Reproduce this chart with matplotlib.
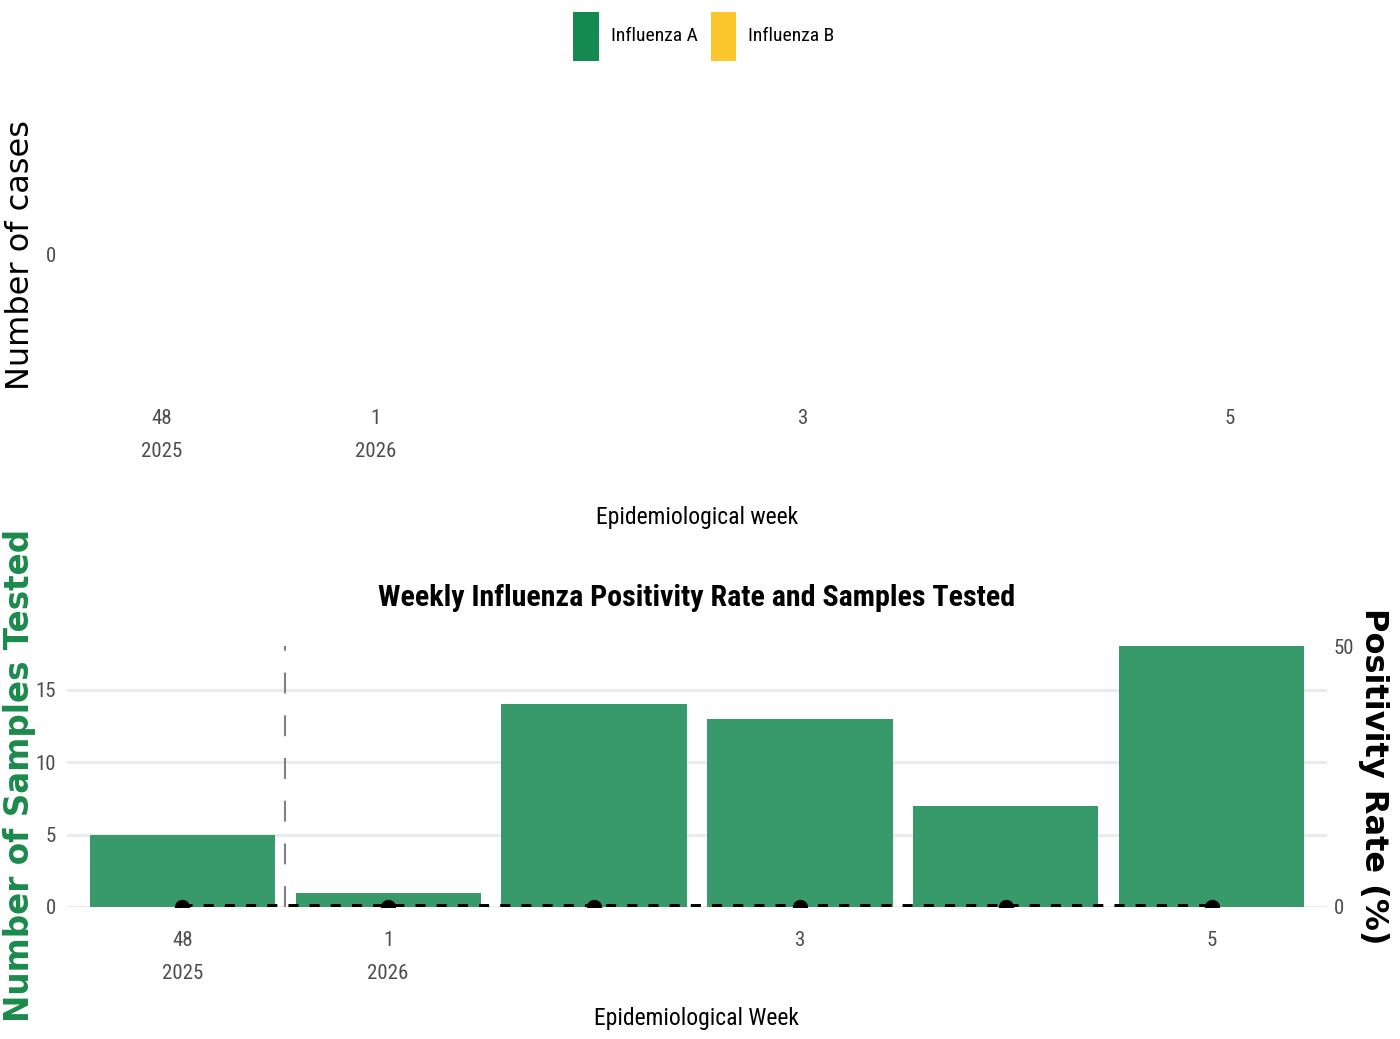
import matplotlib
matplotlib.use("Agg")
import matplotlib.pyplot as plt
from matplotlib.patches import Patch
import numpy as np

# ---- data ----
weeks = ["48", "1", "2", "3", "4", "5"]
years = ["2025", "2026", "2026", "2026", "2026", "2026"]
samples_tested = [5, 1, 14, 13, 7, 18]
positivity_rate = [0, 0, 0, 0, 0, 0]
label_weeks = ["48", "1", "3", "5"]
legend_labels = ["Influenza A", "Influenza B"]
legend_colors = ["#148A50", "#FCC72C"]
left_ticks = [0, 5, 10, 15]
right_ticks = [0, 50]
top_ticks = [0]

NARROW = ["Liberation Sans Narrow", "Arial Narrow", "Roboto Condensed",
          "DejaVu Sans Condensed", "Noto Sans Condensed", "Liberation Sans", "DejaVu Sans"]
WIDE = ["DejaVu Sans"]
BAR_COLOR = "#38996A"
GREEN_LABEL = "#1B8A4C"
TICK_GRAY = "#4D4D4D"
TICK_FS = 15

W, H = 1400, 1039
fig = plt.figure(figsize=(W / 100, H / 100), dpi=100)

def frac_rect(x0, y0, x1, y1):
    return [x0 / W, 1 - y1 / H, (x1 - x0) / W, (y1 - y0) / H]

x = np.arange(len(weeks))
tick_pos = [weeks.index(w) for w in label_weeks]
tick_text = []
for w in label_weeks:
    i = weeks.index(w)
    if i == 0 or years[i] != years[i - 1]:
        tick_text.append(f"{w}\n{years[i]}")
    else:
        tick_text.append(w)

# ---- top panel (empty case counts) ----
ax1 = fig.add_axes(frac_rect(67, 125, 1327, 385))
ax1.set_xlim(-0.445, 5.454)
ax1.set_ylim(-1, 1)
for s in ax1.spines.values():
    s.set_visible(False)
ax1.set_yticks(top_ticks)
ax1.set_xticks(tick_pos)
ax1.set_xticklabels(tick_text, family=NARROW, fontsize=TICK_FS, color=TICK_GRAY, linespacing=1.95)
ax1.set_yticklabels([str(t) for t in top_ticks], family=NARROW, fontsize=TICK_FS, color=TICK_GRAY)
ax1.tick_params(length=0, axis="x", pad=17)
ax1.tick_params(length=0, axis="y", pad=8)
fig.text(21 / W, 1 - 255 / H, "Number of cases", rotation=90, family=WIDE, fontsize=23,
         ha="center", va="center", color="black")
fig.text(697 / W, 1 - 517 / H, "Epidemiological week", family=NARROW, fontsize=17,
         ha="center", va="center", color="black")

handles = [Patch(facecolor=c, edgecolor="none") for c in legend_colors]
fig.legend(handles, legend_labels, loc="center", bbox_to_anchor=(704 / W, 1 - 36 / H),
           ncol=2, frameon=False, prop={"family": NARROW, "size": 14},
           handlelength=1.3, handleheight=3.5, handletextpad=0.62, columnspacing=0.68)

# ---- bottom panel ----
ax2 = fig.add_axes(frac_rect(67, 646, 1327, 907))
ax2.set_xlim(-0.56, 5.56)
ax2.set_ylim(0, 18)
for s in ax2.spines.values():
    s.set_visible(False)
ax2.set_axisbelow(True)
ax2.yaxis.grid(True, color="#EBEBEB", linewidth=2.2)
ax2.xaxis.grid(False)
ax2.bar(x, samples_tested, width=0.9, color=BAR_COLOR, zorder=2)
ax2.axvline(0.5, color="#808080", linewidth=1.5, linestyle=(0, (10, 10.5)), zorder=3)

scale = 18 / 50
pos_scaled = [p * scale for p in positivity_rate]
ax2.plot(x, pos_scaled, color="black", linewidth=5, linestyle=(0, (1.45, 1.6)), zorder=4)
ax2.plot(x, pos_scaled, "o", color="black", markersize=10, zorder=5, clip_on=True)

ax2.set_yticks(left_ticks)
ax2.set_yticklabels([str(t) for t in left_ticks], family=NARROW, fontsize=TICK_FS, color=TICK_GRAY)
ax2.set_xticks(tick_pos)
ax2.set_xticklabels(tick_text, family=NARROW, fontsize=TICK_FS, color=TICK_GRAY, linespacing=1.95)
ax2.tick_params(length=0, axis="x", pad=17)
ax2.tick_params(length=0, axis="y", pad=8)

ax3 = ax2.twinx()
ax3.set_ylim(0, 50)
for s in ax3.spines.values():
    s.set_visible(False)
ax3.set_yticks(right_ticks)
ax3.set_yticklabels([str(t) for t in right_ticks], family=NARROW, fontsize=TICK_FS, color=TICK_GRAY)
ax3.tick_params(length=0, pad=5)

fig.text(697 / W, 1 - 598 / H, "Weekly Influenza Positivity Rate and Samples Tested",
         family=NARROW, fontsize=21.6, fontweight="bold", ha="center", va="center", color="black")
fig.text(20 / W, 1 - 775 / H, "Number of Samples Tested", rotation=90, family=WIDE,
         fontsize=23.5, fontweight="bold", ha="center", va="center", color=GREEN_LABEL)
fig.text(1374 / W, 1 - 776 / H, "Positivity Rate (%)", rotation=-90, family=WIDE,
         fontsize=23, fontweight="bold", ha="center", va="center", color="black")
fig.text(697 / W, 1 - 1018 / H, "Epidemiological Week", family=NARROW, fontsize=17,
         ha="center", va="center", color="black")

fig.savefig("out.png", dpi=100, facecolor="white")
